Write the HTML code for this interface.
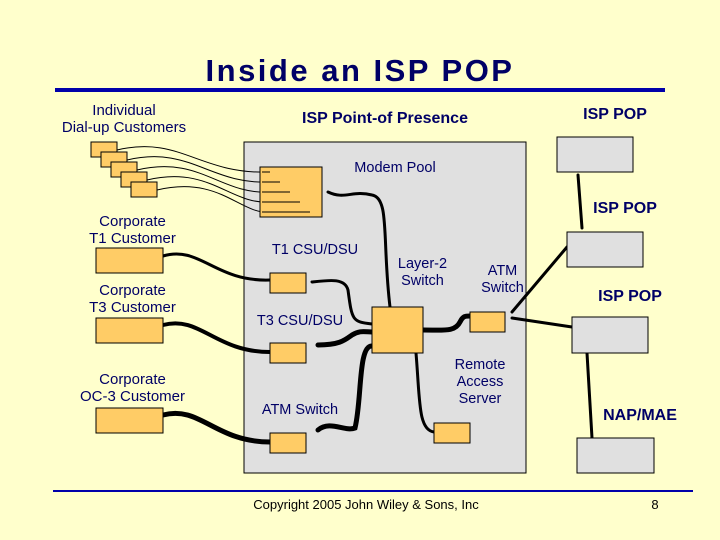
<!DOCTYPE html>
<html><head><style>
body{margin:0;width:720px;height:540px;background:#ffffcc;position:relative;overflow:hidden;font-family:"Liberation Sans",sans-serif;color:#000066}
.t{position:absolute;white-space:nowrap;text-align:center;line-height:17px}
</style></head><body>
<svg width="720" height="540" style="position:absolute;left:0;top:0">
<rect x="55" y="88" width="610" height="4" fill="#0000aa"/>
<rect x="53" y="490" width="640" height="2" fill="#0000aa"/>
<rect x="244" y="142" width="282" height="331" fill="#e0e0e0" stroke="#000" stroke-width="1"/>
<g stroke="#000" fill="none" stroke-width="1">
<path d="M117 150 C180 135,200 175,270 172"/>
<path d="M127 160 C190 145,210 185,270 182"/>
<path d="M137 170 C200 155,220 195,270 192"/>
<path d="M147 180 C210 165,230 205,270 202"/>
<path d="M157 190 C220 175,240 215,270 212"/>
</g>
<g fill="#ffcc66" stroke="#000" stroke-width="1">
<rect x="91" y="142" width="26" height="15"/>
<rect x="101" y="152" width="26" height="15"/>
<rect x="111" y="162" width="26" height="15"/>
<rect x="121" y="172" width="26" height="15"/>
<rect x="131" y="182" width="26" height="15"/>
<rect x="260" y="167" width="62" height="50"/>
</g>
<g stroke="#000" stroke-width="1"><line x1="262" y1="172" x2="270" y2="172"/><line x1="262" y1="182" x2="280" y2="182"/><line x1="262" y1="192" x2="290" y2="192"/><line x1="262" y1="202" x2="300" y2="202"/><line x1="262" y1="212" x2="310" y2="212"/></g>
<g stroke="#000" fill="none" stroke-linecap="round">
<path d="M163 256 C200 245,215 282,270 280" stroke-width="3"/>
<path d="M163 325 C200 315,215 352,270 352" stroke-width="4"/>
<path d="M163 415 C200 405,215 442,270 442" stroke-width="5"/>
<path d="M328 192 C345 200,352 190,372 195 C390 198,382 240,390 307" stroke-width="3"/>
<path d="M312 282 C330 280,345 278,348 290 C352 320,352 322,372 324" stroke-width="3"/>
<path d="M318 345 C340 345,345 340,352 335 C360 330,365 332,372 332" stroke-width="5"/>
<path d="M318 430 C330 420,345 432,355 428 C362 400,358 345,372 346" stroke-width="5"/>
<path d="M423 330 C445 330,455 332,460 322 C463 316,465 316,470 316" stroke-width="5"/>
<path d="M416 353 C420 400,418 430,434 432" stroke-width="3"/>
<path d="M512 312 L567 247" stroke-width="3"/>
<path d="M512 318 L572 327" stroke-width="3"/>
<path d="M578 175 L582 228" stroke-width="3"/>
<path d="M587 353 L592 438" stroke-width="3"/>
</g>
<g fill="#ffcc66" stroke="#000" stroke-width="1">
<rect x="96" y="248" width="67" height="25"/>
<rect x="96" y="318" width="67" height="25"/>
<rect x="96" y="408" width="67" height="25"/>
<rect x="270" y="273" width="36" height="20"/>
<rect x="270" y="343" width="36" height="20"/>
<rect x="270" y="433" width="36" height="20"/>
<rect x="372" y="307" width="51" height="46"/>
<rect x="470" y="312" width="35" height="20"/>
<rect x="434" y="423" width="36" height="20"/>
</g>
<g fill="#e0e0e0" stroke="#000" stroke-width="1">
<rect x="557" y="137" width="76" height="35"/>
<rect x="567" y="232" width="76" height="35"/>
<rect x="572" y="317" width="76" height="36"/>
<rect x="577" y="438" width="77" height="35"/>
</g>
</svg>
<div class="t" style="left:0;width:720px;top:53px;font-size:31px;font-weight:bold;line-height:36px;letter-spacing:2.5px">Inside an ISP POP</div>
<div class="t" style="left:34px;width:180px;top:102px;font-size:15px">Individual<br>Dial-up Customers</div>
<div class="t" style="left:260px;width:250px;top:110px;font-size:16px;font-weight:bold">ISP Point-of Presence</div>
<div class="t" style="left:560px;width:110px;top:106px;font-size:16px;font-weight:bold">ISP POP</div>
<div class="t" style="left:340px;width:110px;top:160px;font-size:14.5px">Modem Pool</div>
<div class="t" style="left:570px;width:110px;top:200px;font-size:16px;font-weight:bold">ISP POP</div>
<div class="t" style="left:575px;width:110px;top:288px;font-size:16px;font-weight:bold">ISP POP</div>
<div class="t" style="left:585px;width:110px;top:407px;font-size:16px;font-weight:bold">NAP/MAE</div>
<div class="t" style="left:65px;width:135px;top:213px;font-size:15px">Corporate<br>T1 Customer</div>
<div class="t" style="left:65px;width:135px;top:282px;font-size:15px">Corporate<br>T3 Customer</div>
<div class="t" style="left:60px;width:145px;top:371px;font-size:15px">Corporate<br>OC-3 Customer</div>
<div class="t" style="left:260px;width:110px;top:242px;font-size:14.5px">T1 CSU/DSU</div>
<div class="t" style="left:245px;width:110px;top:313px;font-size:14.5px">T3 CSU/DSU</div>
<div class="t" style="left:245px;width:110px;top:402px;font-size:14.5px">ATM Switch</div>
<div class="t" style="left:380px;width:85px;top:256px;font-size:14.5px">Layer-2<br>Switch</div>
<div class="t" style="left:465px;width:75px;top:263px;font-size:14.5px">ATM<br>Switch</div>
<div class="t" style="left:435px;width:90px;top:357px;font-size:14.5px">Remote<br>Access<br>Server</div>
<div class="t" style="left:236px;width:260px;top:496px;font-size:13px;color:#000">Copyright 2005 John Wiley &amp; Sons, Inc</div>
<div class="t" style="left:640px;width:30px;top:496px;font-size:13px;color:#000">8</div>
</body></html>
